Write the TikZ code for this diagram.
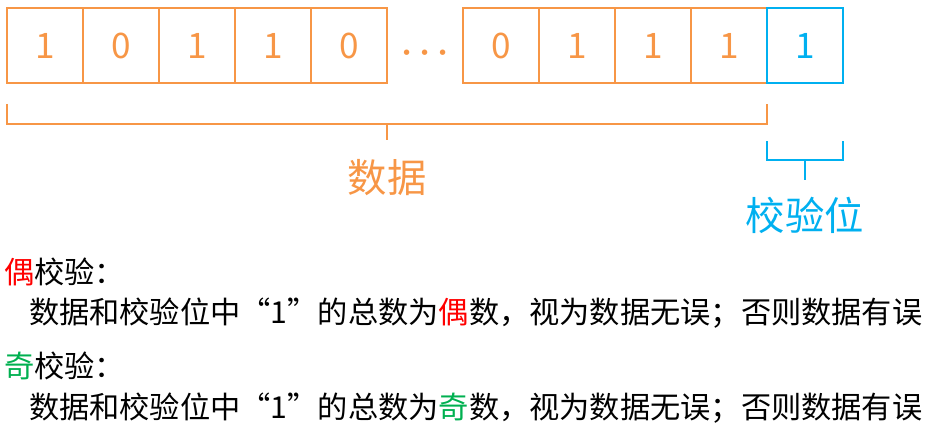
\documentclass[tikz,border=0pt]{standalone}
\usepackage{fontspec}
\setmainfont{Noto Sans CJK SC}
\usetikzlibrary{positioning}
\definecolor{pbOrange}{HTML}{F79646}
\definecolor{pbBlue}{HTML}{00B0F0}
\definecolor{pbRed}{HTML}{FF0000}
\definecolor{pbGreen}{HTML}{00B050}
\tikzset{
  bitbox/.style={draw=pbOrange, line width=1.5pt, minimum width=1.9cm, minimum height=1.875cm, inner sep=0pt, outer sep=0pt, text=pbOrange, font=\fontsize{25}{30}\selectfont},
  chkbox/.style={bitbox, draw=pbBlue, text=pbBlue},
  brO/.style={draw=pbOrange, line width=1.5pt},
  brB/.style={draw=pbBlue, line width=1.5pt},
  lbl/.style={font=\fontsize{28}{34}\selectfont, inner sep=0pt},
  dotsty/.style={text=pbOrange, font=\fontsize{38}{44}\selectfont\boldmath, inner sep=0pt, anchor=base},
  txt/.style={font=\fontsize{21.5}{26}\selectfont, inner sep=0pt, anchor=west},
}

\begin{document}
\begin{tikzpicture}[node distance=0pt]
  \useasboundingbox (0,0) rectangle (23.4,-10.675);
  % data bits
  \node[bitbox] (b1) at (1.125,-1.14) {1};
  \node[bitbox, right=of b1] (b2) {0};
  \node[bitbox, right=of b2] (b3) {1};
  \node[bitbox, right=of b3] (b4) {1};
  \node[bitbox, right=of b4] (b5) {0};
  \node[bitbox, right=1.9cm of b5] (b6) {0};
  \node[bitbox, right=of b6] (b7) {1};
  \node[bitbox, right=of b7] (b8) {1};
  \node[bitbox, right=of b8] (b9) {1};
  \node[chkbox, right=of b9] (p) {1};
  \node[dotsty] (dots) at ([xshift=0.95cm, yshift=-0.39cm]b5.east) {$\cdots$};
  % brackets
  \draw[brO] ([yshift=-0.52cm]b1.south west) -- ++(0,-0.5) -| ([yshift=-0.52cm]b9.south east);
  \draw[brO] ([yshift=-1.02cm]b5.south east) -- ++(0,-0.4) coordinate (dT);
  \node[lbl, text=pbOrange] (data) at ([yshift=-0.95cm]dT) {数据};
  \draw[brB] ([yshift=-1.45cm]p.south west) -- ++(0,-0.47) -| ([yshift=-1.45cm]p.south east);
  \draw[brB] ([yshift=-1.92cm]p.south) -- ++(0,-0.5) coordinate (pT);
  \node[lbl, text=pbBlue] (chk) at ([yshift=-0.9cm]pT) {校验位};
  % rules
  \node[txt] (even) at (0.1,-6.79) {\textcolor{pbRed}{偶}校验：};
  \node[txt] (evenrule) at (0.72,-7.83) {数据和校验位中“1”的总数为\textcolor{pbRed}{偶}数，视为数据无误；否则数据有误};
  \node[txt] (odd) at (0.1,-9.15) {\textcolor{pbGreen}{奇}校验：};
  \node[txt] (oddrule) at (0.72,-10.21) {数据和校验位中“1”的总数为\textcolor{pbGreen}{奇}数，视为数据无误；否则数据有误};
\end{tikzpicture}
\end{document}
